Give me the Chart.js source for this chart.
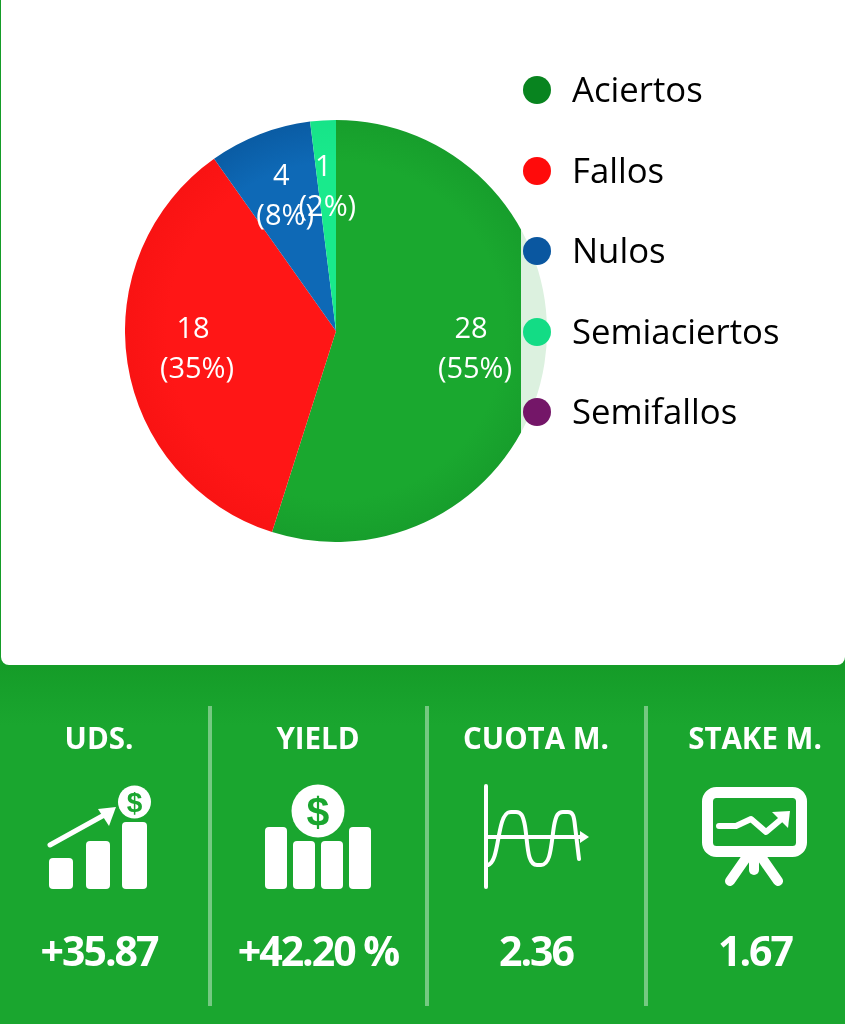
<!DOCTYPE html>
<html>
<head>
<meta charset="utf-8">
<title>Resumen</title>
<script src="https://cdn.jsdelivr.net/npm/chart.js@4"></script>
<style>
    html, body { margin: 0; padding: 0; }
    body {
        width: 845px; height: 1024px; position: relative; overflow: hidden;
        font-family: "Open Sans", sans-serif;
        background: linear-gradient(#159c28 0, #159c28 666px, #1aa62f 725px, #1aa62f 100%);
    }
    .card { position: absolute; left: 1px; top: 0; width: 844px; height: 665px; background: #fff; border-radius: 0 0 8px 8px; }
    .pie-box { position: absolute; left: 125px; top: 120px; width: 422px; height: 422px; }
    .legend { position: absolute; left: 521px; top: 50px; width: 324px; height: 402px; background: rgba(255, 255, 255, 0.85); }
    .legend-row { position: absolute; left: 2px; height: 40px; line-height: 40px; font-size: 34.7px; color: #000; white-space: nowrap; }
    .legend-row i { position: absolute; left: 0; top: 6px; width: 28px; height: 28px; border-radius: 50%; }
    .legend-row span { position: absolute; left: 49px; top: -1px; }
    .divider { position: absolute; top: 706px; width: 4px; height: 300px; background: rgba(255, 255, 255, 0.4); }
    .stat-title, .stat-value { position: absolute; width: 210px; text-align: center; color: #fff; font-weight: 700; white-space: nowrap; }
    .stat-title { top: 719px; font-size: 29.5px; line-height: 38px; }
    .stat-value { top: 923px; font-size: 41px; line-height: 54px; letter-spacing: -2px; }
    svg.icons { position: absolute; left: 0; top: 0; }
</style>
</head>
<body>
<div class="card"></div>
<div class="pie-box"><canvas id="pieChart"></canvas></div>
<div class="legend" id="legend"></div>
<svg class="icons" width="845" height="1024" fill="#fff">
    <!-- UDS. -->
    <rect x="49" y="858" width="24" height="31" rx="4"/>
    <rect x="86" y="841" width="24" height="48" rx="4"/>
    <rect x="122" y="822" width="25" height="67" rx="4"/>
    <path d="M50 845 L106 814" stroke="#fff" stroke-width="5" stroke-linecap="round"/>
    <path d="M116 807 L98 809 L109 826 Z"/>
    <circle cx="134.5" cy="802" r="16.5"/>
    <text x="134.5" y="812" font-size="28" font-weight="700" text-anchor="middle" fill="#1aa62f" font-family="Liberation Sans">$</text>
    <!-- YIELD -->
    <rect x="265" y="827" width="22" height="62" rx="4"/>
    <rect x="293" y="841" width="22" height="48" rx="4"/>
    <rect x="321" y="841" width="22" height="48" rx="4"/>
    <rect x="349" y="827" width="22" height="62" rx="4"/>
    <circle cx="318" cy="811" r="26.5"/>
    <text x="318" y="826" font-size="41" font-weight="700" text-anchor="middle" fill="#1aa62f" font-family="Liberation Sans">$</text>
    <!-- CUOTA M. -->
    <g fill="none" stroke="#fff" stroke-width="4" stroke-linecap="round">
        <path d="M486 786 V887"/>
        <path d="M486 837 H582"/>
        <path d="M488 865 C497 862 497 838 502 822 C505 813 508 812 511 812 H516 C521 812 523 815 525 826 C528 845 527 865 537 865 H541 C551 865 551 845 554 826 C556 815 558 812 563 812 H568 C573 812 574 816 575 826 L579 859"/>
    </g>
    <path d="M580 831 L589 837 L580 843 Z"/>
    <!-- STAKE M. -->
    <rect x="707.5" y="792.5" width="94" height="59" rx="9" fill="none" stroke="#fff" stroke-width="11"/>
    <path d="M719 826 H736 L751 819 L766 832 L785 816" fill="none" stroke="#fff" stroke-width="6" stroke-linecap="round" stroke-linejoin="round"/>
    <path d="M772 812 L790 811 L788 828 Z"/>
    <g stroke="#fff" stroke-width="10" stroke-linecap="round">
        <path d="M746 858 L730 881"/>
        <path d="M762 858 L778 881"/>
        <path d="M754 858 V870"/>
    </g>
</svg>
<script>
// Pie data
const categories = ['Aciertos', 'Fallos', 'Nulos', 'Semiaciertos', 'Semifallos'];
const values = [28, 18, 4, 1, 0];
const percents = [55, 35, 8, 2, 0];
const legendColors = ['#08841f', '#ff0b0b', '#0a57a0', '#13dc85', '#741668'];
const sliceInner = ['#1aa82f', '#ff1616', '#0e69b6', '#19ea8c', '#7d1d73'];
const sliceOuter = ['#179e2c', '#f91313', '#0a5ca4', '#17e388', '#741668'];

// Bottom strip
const statTitles = ['UDS.', 'YIELD', 'CUOTA M.', 'STAKE M.'];
const statValues = ['+35.87', '+42.20 %', '2.36', '1.67'];

const statCenters = [99, 318, 536, 755];
const dividerLefts = [208, 425, 644];

function buildLegend() {
    const box = document.getElementById('legend');
    categories.forEach((name, i) => {
        const row = document.createElement('div');
        row.className = 'legend-row';
        row.style.top = (20 + i * 80.5) + 'px';
        row.innerHTML = '<i style="background:' + legendColors[i] + '"></i><span>' + name + '</span>';
        box.appendChild(row);
    });
}

function buildStats() {
    statTitles.forEach((title, i) => {
        const t = document.createElement('div');
        t.className = 'stat-title';
        t.style.left = (statCenters[i] - 105) + 'px';
        t.textContent = title;
        document.body.appendChild(t);

        const v = document.createElement('div');
        v.className = 'stat-value';
        v.style.left = (statCenters[i] - 105) + 'px';
        v.textContent = statValues[i];
        document.body.appendChild(v);
    });
    dividerLefts.forEach(x => {
        const d = document.createElement('div');
        d.className = 'divider';
        d.style.left = x + 'px';
        document.body.appendChild(d);
    });
}

// Two line label inside each slice, at 2/3 of the radius
const sliceLabels = {
    id: 'sliceLabels',
    afterDatasetsDraw(chart) {
        const ctx = chart.ctx;
        ctx.save();
        ctx.fillStyle = '#fff';
        ctx.font = '29px "Open Sans"';
        ctx.textAlign = 'center';
        ctx.textBaseline = 'middle';
        chart.getDatasetMeta(0).data.forEach((arc, i) => {
            if (!values[i]) return;
            const mid = (arc.startAngle + arc.endAngle) / 2;
            const r = arc.outerRadius * 2 / 3;
            const x = arc.x + Math.cos(mid) * r;
            const y = arc.y + Math.sin(mid) * r;
            // first line sits a little left of the second, as if it had a trailing space
            ctx.fillText(String(values[i]), x - 4, y - 23);
            ctx.fillText('(' + percents[i] + '%)', x, y + 17);
        });
        ctx.restore();
    }
};

function sliceColor(context) {
    const area = context.chart.chartArea;
    const i = context.dataIndex;
    if (!area) return sliceOuter[i];
    const cx = (area.left + area.right) / 2;
    const cy = (area.top + area.bottom) / 2;
    const g = context.chart.ctx.createRadialGradient(cx, cy, 0, cx, cy, area.width / 2);
    g.addColorStop(0, sliceInner[i]);
    g.addColorStop(0.8, sliceInner[i]);
    g.addColorStop(1, sliceOuter[i]);
    return g;
}

function initializeChart() {
    new Chart(document.getElementById('pieChart'), {
        type: 'pie',
        data: {
            labels: categories,
            datasets: [{ data: values, backgroundColor: sliceColor, borderWidth: 0 }]
        },
        options: {
            responsive: true,
            maintainAspectRatio: false,
            animation: false,
            plugins: { legend: { display: false }, tooltip: { enabled: false } }
        },
        plugins: [sliceLabels]
    });
}

buildLegend();
buildStats();
initializeChart();
</script>
</body>
</html>
